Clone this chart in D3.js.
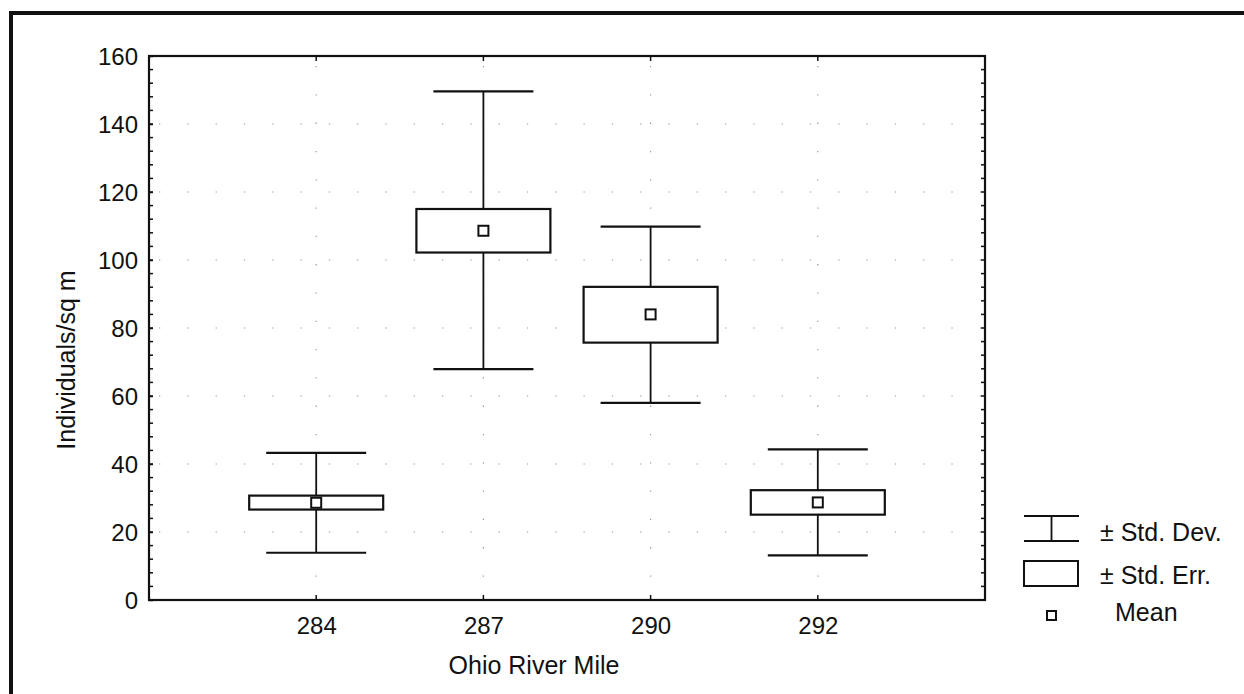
<!DOCTYPE html>
<html>
<head>
<meta charset="utf-8">
<script src="https://cdn.jsdelivr.net/npm/d3@7"></script>
<style>
html,body{margin:0;padding:0;background:#fff;}
svg{display:block;}
text{font-family:"Liberation Sans",Arial,sans-serif;fill:#111;}
</style>
</head>
<body>
<svg id="chart" width="1244" height="694"></svg>
<script>
// ---- data ----
const categories = ["284", "287", "290", "292"];
const means  = [28.6, 108.6, 84.0, 28.7];
const seLow  = [26.6, 102.2, 75.7, 25.1];
const seHigh = [30.7, 115.0, 92.1, 32.3];
const sdLow  = [13.9, 67.9, 58.0, 13.1];
const sdHigh = [43.3, 149.6, 109.8, 44.3];
const yTicks = [0, 20, 40, 60, 80, 100, 120, 140, 160];
const xTitle = "Ohio River Mile";
const yTitle = "Individuals/sq m";
const legendLabels = ["\u00B1 Std. Dev.", "\u00B1 Std. Err.", "Mean"];

// ---- layout ----
const svg = d3.select("#chart");
const L = 149, R = 985, T = 56, B = 600;
const x = d3.scalePoint().domain(categories).range([L, R]).padding(1);
const y = d3.scaleLinear().domain([0, 160]).range([B, T]);
const ink = "#111";
const FONT = '"Liberation Sans",Arial,sans-serif';

// outer frame (top and left edges)
svg.append("line").attr("x1", 9).attr("x2", 1244).attr("y1", 13).attr("y2", 13)
  .attr("stroke", ink).attr("stroke-width", 4);
svg.append("line").attr("x1", 11).attr("x2", 11).attr("y1", 11).attr("y2", 694)
  .attr("stroke", ink).attr("stroke-width", 4);

// grid (sparse dotted)
const grid = svg.append("g").attr("stroke", "#999").attr("stroke-width", 1.2)
  .attr("stroke-dasharray", "1.3,27");
yTicks.filter(v => v > 0 && v < 160).forEach(v => {
  grid.append("line").attr("x1", L + 10).attr("x2", R - 4).attr("y1", y(v)).attr("y2", y(v));
});
categories.forEach(c => {
  grid.append("line").attr("x1", x(c)).attr("x2", x(c)).attr("y1", T + 10).attr("y2", B - 4);
});

// minor ticks on left/right axes (every 4 units, inward)
const minor = d3.range(0, 161, 4);
const tk = svg.append("g").attr("stroke", ink).attr("stroke-width", 1.5);
minor.forEach(v => {
  tk.append("line").attr("x1", L).attr("x2", L + 4).attr("y1", y(v)).attr("y2", y(v));
  tk.append("line").attr("x1", R).attr("x2", R - 4).attr("y1", y(v)).attr("y2", y(v));
});
categories.forEach(c => {
  tk.append("line").attr("x1", x(c)).attr("x2", x(c)).attr("y1", T).attr("y2", T + 5);
  tk.append("line").attr("x1", x(c)).attr("x2", x(c)).attr("y1", B).attr("y2", B - 5);
});

// axes via d3
const yAxis = svg.append("g").attr("transform", `translate(${L},0)`)
  .call(d3.axisLeft(y).tickValues(yTicks).tickSize(4).tickPadding(9));
yAxis.select(".domain").remove();
yAxis.selectAll("line").attr("stroke", ink).attr("stroke-width", 1.5).attr("x2", 4);
yAxis.selectAll("text").attr("font-size", 24).attr("font-family", FONT)
  .attr("fill", ink).attr("x", -11).attr("dy", "0.36em");

const xAxis = svg.append("g").attr("transform", `translate(0,${B})`)
  .call(d3.axisBottom(x).tickSize(0).tickPadding(17));
xAxis.select(".domain").remove();
xAxis.selectAll("text").attr("font-size", 24).attr("font-family", FONT)
  .attr("fill", ink);

// plot frame
svg.append("rect").attr("x", L).attr("y", T).attr("width", R - L).attr("height", B - T)
  .attr("fill", "none").attr("stroke", ink).attr("stroke-width", 2.2);

// titles
svg.append("text").attr("x", 534).attr("y", 674).attr("text-anchor", "middle")
  .attr("font-size", 25).text(xTitle);
svg.append("text").attr("transform", "translate(75,360) rotate(-90)").attr("text-anchor", "middle")
  .attr("font-size", 25).text(yTitle);

// boxes
const boxW = 134, capW = 100, mSize = 10;
const g = svg.append("g").attr("stroke", ink).attr("fill", "#fff");
categories.forEach((c, i) => {
  const cx = x(c);
  g.append("line").attr("x1", cx).attr("x2", cx).attr("y1", y(sdHigh[i])).attr("y2", y(seHigh[i]))
    .attr("stroke-width", 1.8);
  g.append("line").attr("x1", cx).attr("x2", cx).attr("y1", y(seLow[i])).attr("y2", y(sdLow[i]))
    .attr("stroke-width", 1.8);
  g.append("line").attr("x1", cx - capW / 2).attr("x2", cx + capW / 2)
    .attr("y1", y(sdHigh[i])).attr("y2", y(sdHigh[i])).attr("stroke-width", 2.2);
  g.append("line").attr("x1", cx - capW / 2).attr("x2", cx + capW / 2)
    .attr("y1", y(sdLow[i])).attr("y2", y(sdLow[i])).attr("stroke-width", 2.2);
  g.append("rect").attr("x", cx - boxW / 2).attr("y", y(seHigh[i]))
    .attr("width", boxW).attr("height", y(seLow[i]) - y(seHigh[i])).attr("stroke-width", 2.2);
  g.append("rect").attr("x", cx - mSize / 2).attr("y", y(means[i]) - mSize / 2)
    .attr("width", mSize).attr("height", mSize).attr("stroke-width", 2);
});

// legend
const lg = svg.append("g").attr("stroke", ink).attr("fill", "#fff");
lg.append("line").attr("x1", 1024).attr("x2", 1079).attr("y1", 516).attr("y2", 516).attr("stroke-width", 2);
lg.append("line").attr("x1", 1024).attr("x2", 1079).attr("y1", 541).attr("y2", 541).attr("stroke-width", 2);
lg.append("line").attr("x1", 1051.5).attr("x2", 1051.5).attr("y1", 516).attr("y2", 541).attr("stroke-width", 1.8);
lg.append("rect").attr("x", 1024).attr("y", 561).attr("width", 54).attr("height", 25).attr("stroke-width", 2);
lg.append("rect").attr("x", 1047).attr("y", 611).attr("width", 9).attr("height", 9).attr("stroke-width", 2);
const lt = svg.append("g").attr("font-size", 25);
lt.append("text").attr("x", 1100).attr("y", 541).text(legendLabels[0]);
lt.append("text").attr("x", 1100).attr("y", 584).text(legendLabels[1]);
lt.append("text").attr("x", 1115).attr("y", 621).text(legendLabels[2]);
</script>
</body>
</html>
